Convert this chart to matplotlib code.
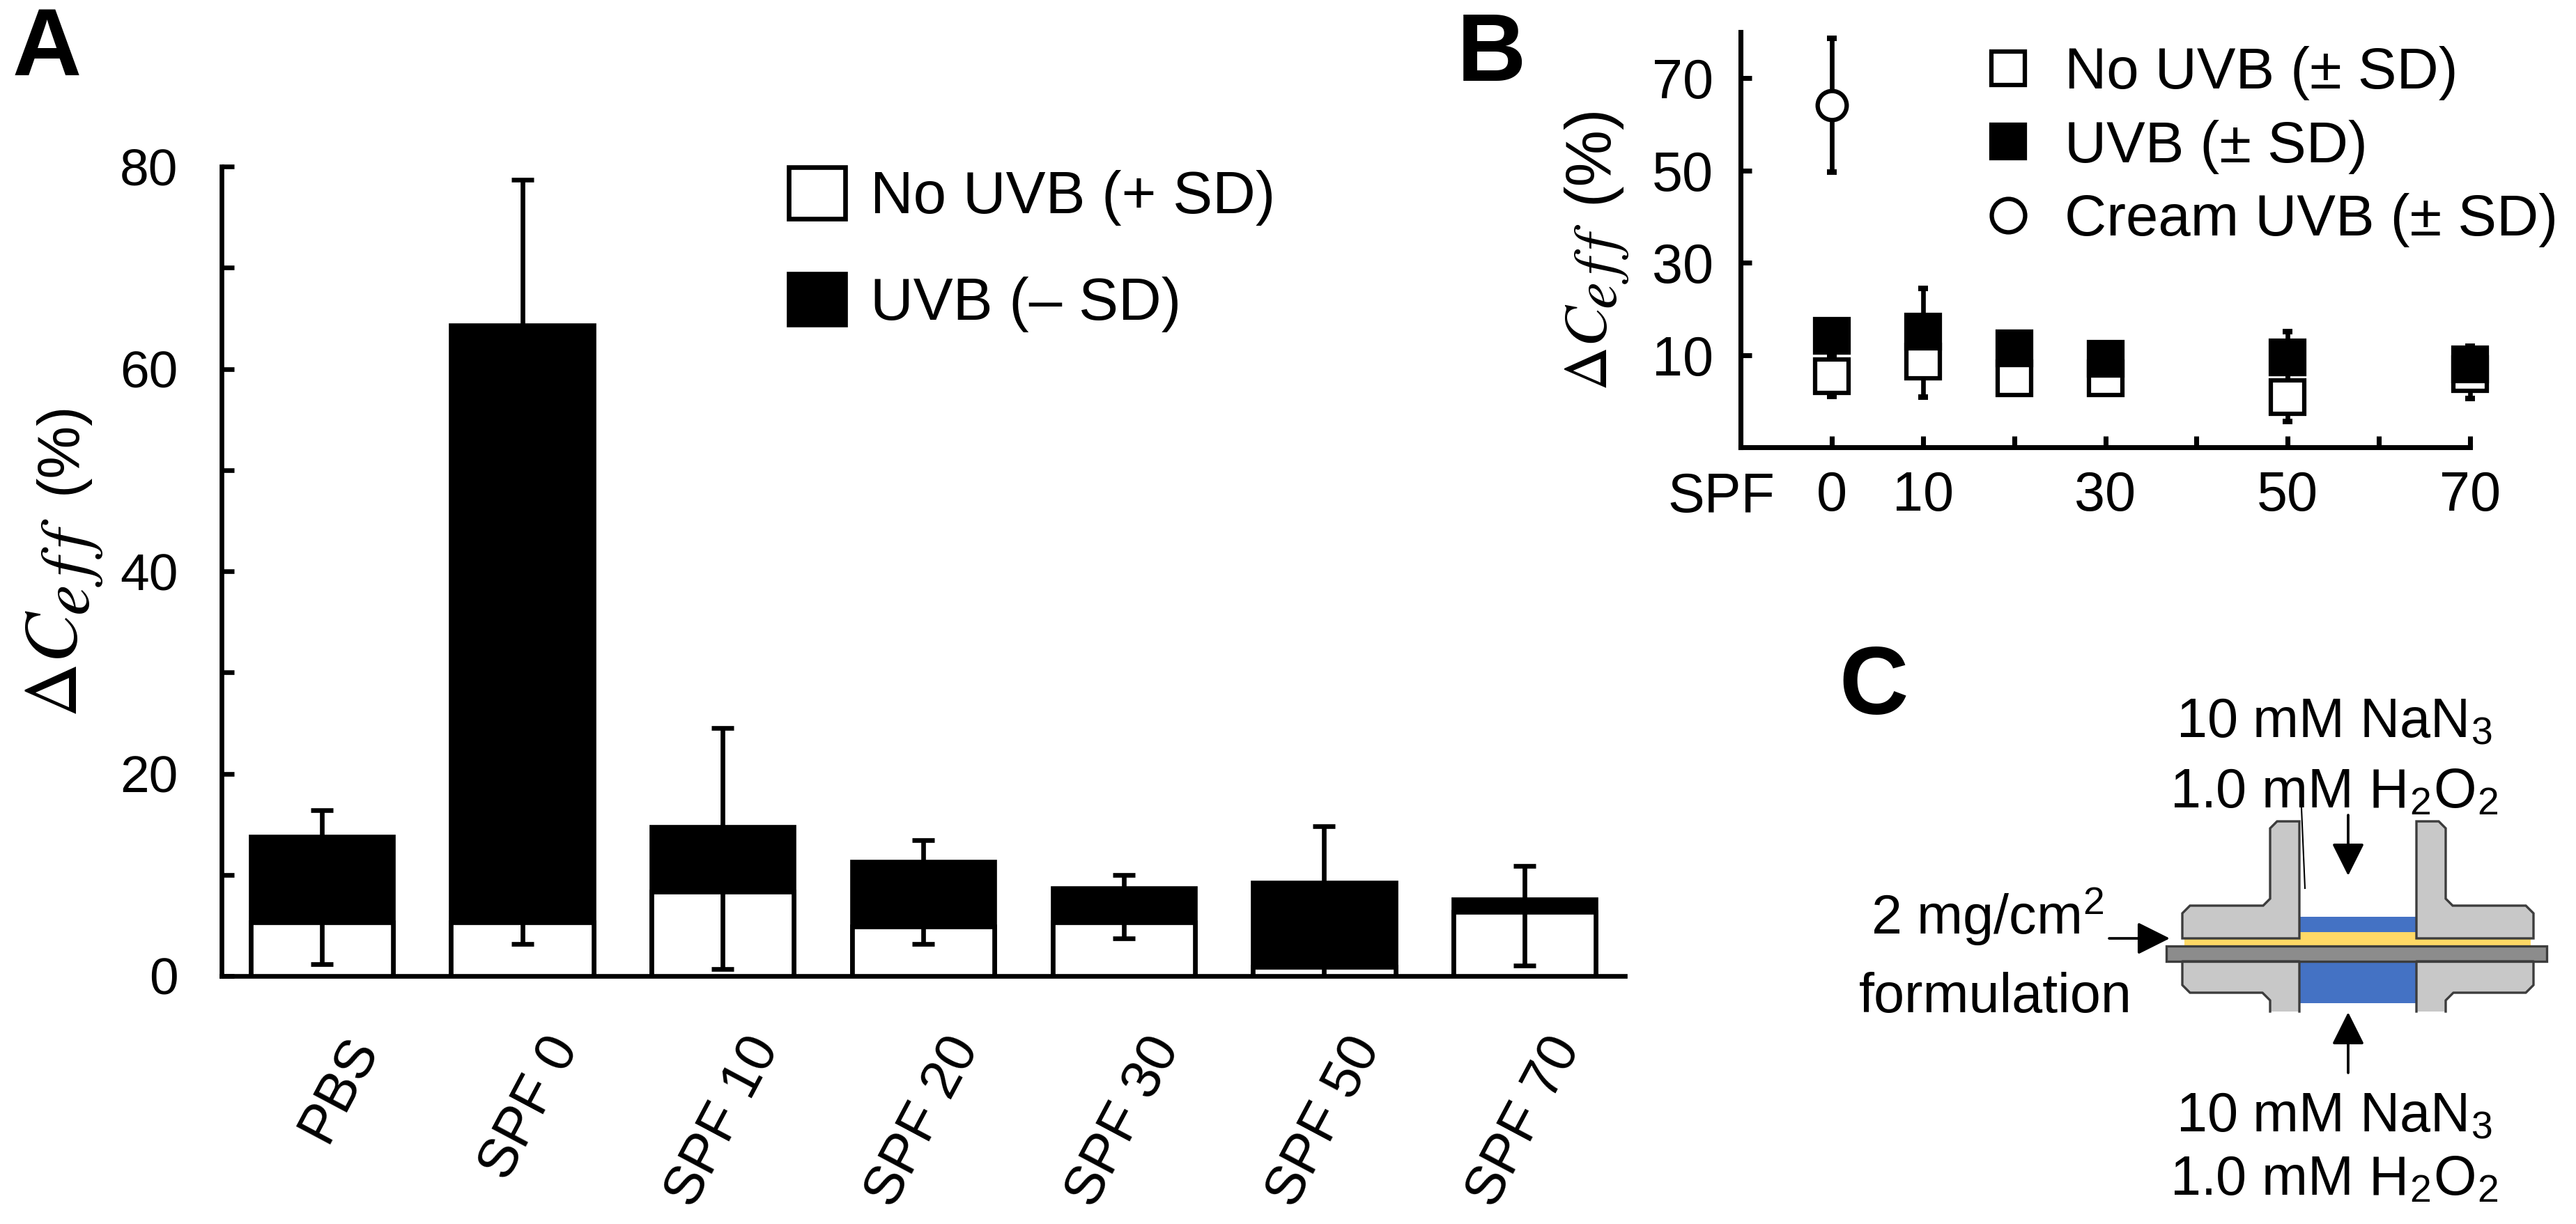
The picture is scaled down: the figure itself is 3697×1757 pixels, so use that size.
import matplotlib
matplotlib.use('Agg')
import matplotlib.pyplot as plt
from matplotlib.patches import Patch, Polygon, Rectangle
from matplotlib.lines import Line2D
from matplotlib.transforms import ScaledTranslation

plt.rcParams['font.family'] = ['Liberation Sans', 'DejaVu Sans']
plt.rcParams['mathtext.fontset'] = 'stix'

# ---- panel A data (bars) ----
cats_a = ['PBS', 'SPF 0', 'SPF 10', 'SPF 20', 'SPF 30', 'SPF 50', 'SPF 70']
no_uvb_a = [5.3, 5.3, 8.3, 4.9, 5.3, 0.9, 6.3]
uvb_a = [13.8, 64.3, 14.7, 11.3, 8.7, 9.2, 7.6]
err_lo_a = [1.2, 3.2, 0.7, 3.2, 3.7, -4.4, 1.0]
err_hi_a = [16.4, 78.7, 24.5, 13.4, 10.0, 14.8, 10.9]

# ---- panel B data (points) ----
spf_b = [0, 10, 20, 30, 50, 70]
no_uvb_b = [5.4, 8.5, 4.9, 4.9, 0.9, 5.8]
no_uvb_sd_b = [4.4, 7.7, 2.0, 1.5, 5.3, 5.3]
uvb_b = [14.2, 15.0, 11.5, 9.2, 9.5, 7.9]
uvb_sd_b = [3.0, 9.4, 2.5, 2.0, 5.6, 4.0]
cream_spf = [0]
cream_b = [64.2]
cream_sd = [14.5]

W, H = 3697, 1757
DPI = 300
fig = plt.figure(figsize=(W / DPI, H / DPI), dpi=DPI)


def fx(px):
    return px / W


def fy(py):
    return 1 - py / H


# overlay in pixel coords for labels and the cell sketch
ov = fig.add_axes([0, 0, 1, 1])
ov.set_xlim(0, W)
ov.set_ylim(H, 0)
ov.axis('off')

# ---------------- A ----------------
axA = fig.add_axes([fx(318), fy(1401), fx(2332) - fx(318), fy(239) - fy(1401)])
axA.set_facecolor('none')
xa = list(range(len(cats_a)))
axA.bar(xa, uvb_a, width=0.71, color='black', edgecolor='black', linewidth=1.6, zorder=2)
axA.bar(xa, no_uvb_a, width=0.71, color='white', edgecolor='black', linewidth=1.6, zorder=3)
yerr_a = [[u - lo for u, lo in zip(uvb_a, err_lo_a)],
          [hi - u for u, hi in zip(uvb_a, err_hi_a)]]
axA.errorbar(xa, uvb_a, yerr=yerr_a, fmt='none', ecolor='black', elinewidth=1.6,
             capsize=3.8, capthick=1.6, zorder=4)
axA.set_xlim(-0.5, 6.5)
axA.set_ylim(0, 80)
axA.spines[['top', 'right']].set_visible(False)
axA.spines[['left', 'bottom']].set_linewidth(1.6)
axA.set_yticks(range(0, 81, 10), ['0', '', '20', '', '40', '', '60', '', '80'])
axA.tick_params(axis='y', direction='in', length=4.3, width=1.6, pad=15, labelsize=18)
axA.set_xticks(xa, cats_a, rotation=62, ha='right', va='top', rotation_mode='anchor')
axA.tick_params(axis='x', length=0, pad=18, labelsize=19)
for lab in axA.get_xticklabels():
    lab.set_transform(lab.get_transform() + ScaledTranslation(7 / 72, 0, fig.dpi_scale_trans))

handles_a = [Patch(facecolor='white', edgecolor='black', linewidth=1.6, label='No UVB (+ SD)'),
             Patch(facecolor='black', edgecolor='black', linewidth=1.6, label='UVB (– SD)')]
axA.legend(handles=handles_a, loc='upper left', bbox_to_anchor=(fx(1132), fy(240)),
           bbox_transform=fig.transFigure, frameon=False, fontsize=20.5,
           handlelength=0.95, handleheight=0.95, handletextpad=0.42, labelspacing=0.8,
           borderpad=0, borderaxespad=0)

# ---------------- B ----------------
axB = fig.add_axes([fx(2498), fy(642), fx(3545) - fx(2498), fy(46) - fy(642)])
axB.set_facecolor('none')
eb = dict(fmt='none', ecolor='black', elinewidth=1.6, capsize=1.6, capthick=1.9, zorder=2,
          clip_on=False)
axB.errorbar(spf_b, no_uvb_b, yerr=no_uvb_sd_b, **eb)
axB.errorbar(spf_b, uvb_b, yerr=uvb_sd_b, **eb)
axB.errorbar(cream_spf, cream_b, yerr=cream_sd, **eb)
axB.plot(spf_b, no_uvb_b, 's', ms=11.5, mfc='white', mec='black', mew=1.5, zorder=3, clip_on=False)
axB.plot(spf_b, uvb_b, 's', ms=11.5, mfc='black', mec='black', mew=1.5, zorder=4, clip_on=False)
axB.plot(cream_spf, cream_b, 'o', ms=10, mfc='white', mec='black', mew=1.5, zorder=3, clip_on=False)
axB.set_xlim(-10, 70)
axB.set_ylim(-10, 80)
axB.spines[['top', 'right']].set_visible(False)
axB.spines[['left', 'bottom']].set_linewidth(1.7)
axB.set_xticks(range(0, 71, 10), ['0', '10', '', '30', '', '50', '', '70'])
axB.set_yticks([10, 30, 50, 70])
axB.tick_params(direction='in', length=3.8, width=1.7, labelsize=19)
axB.tick_params(axis='x', pad=8)
axB.tick_params(axis='y', pad=9.4)

handles_b = [Line2D([], [], ls='none', marker='s', ms=11.5, mfc='white', mec='black', mew=1.5,
                    label='No UVB (± SD)'),
             Line2D([], [], ls='none', marker='s', ms=11.5, mfc='black', mec='black', mew=1.5,
                    label='UVB (± SD)'),
             Line2D([], [], ls='none', marker='o', ms=11.5, mfc='white', mec='black', mew=1.5,
                    label='Cream UVB (± SD)')]
axB.legend(handles=handles_b, loc='upper left', bbox_to_anchor=(fx(2840), fy(66)),
           bbox_transform=fig.transFigure, frameon=False, fontsize=20, numpoints=1,
           handlelength=1.0, handletextpad=0.48, labelspacing=0.33,
           borderpad=0, borderaxespad=0)

# ---------------- labels ----------------
ov.text(67, 73, 'A', fontsize=33, fontweight='bold', ha='center', va='center')
ov.text(2140, 80, 'B', fontsize=33, fontweight='bold', ha='center', va='center')
ov.text(2689, 989, 'C', fontsize=33, fontweight='bold', ha='center', va='center')


def ylabel_parts(xb, y0, y1, y2, s_main, s_sub, s_pct, sub_drop):
    # rotated label built from pieces: big "ΔC", spaced italic "eff", then "(%)"
    kw = dict(rotation=90, rotation_mode='anchor', ha='left', va='baseline')
    ov.text(xb, y0, r'$\Delta C$', fontsize=s_main, **kw)
    ov.text(xb + sub_drop, y1, r'$e\,f\,f$', fontsize=s_sub, **kw)
    ov.text(xb, y2, '(%)', fontsize=s_pct, **kw)


ylabel_parts(110, 1030, 884, 709, 26, 24, 20.5, 18)
ylabel_parts(2306, 561, 444, 292, 21, 21, 22, 14)

ov.text(2470, 715, 'SPF', fontsize=19, ha='center', va='center')

# ---------------- C: diffusion cell sketch ----------------
cell_gray = '#c8c8c8'
edge_gray = '#3c3c3c'
ov.add_patch(Rectangle((3135, 1338), 497, 20, facecolor='#ffd966', edgecolor='none'))
ov.add_patch(Rectangle((3300, 1316), 168, 22, facecolor='#4472c4', edgecolor='none'))

upper_left = [(3268, 1179), (3300, 1179), (3300, 1347), (3132, 1347), (3132, 1311),
              (3143, 1300), (3248, 1300), (3258, 1290), (3258, 1189)]
lower_left = [(3258, 1452), (3258, 1436), (3247, 1425), (3143, 1425), (3132, 1414),
              (3132, 1380), (3300, 1380), (3300, 1452)]
for mirror in (False, True):
    up = [((6768 - x) if mirror else x, y) for x, y in upper_left]
    lo = [((6768 - x) if mirror else x, y) for x, y in lower_left]
    ov.add_patch(Polygon(up, closed=True, facecolor=cell_gray, edgecolor=edge_gray, lw=0.8))
    ov.add_patch(Polygon(lo, closed=True, facecolor=cell_gray, edgecolor='none'))
    ov.plot([p[0] for p in lo], [p[1] for p in lo], color=edge_gray, lw=0.8)

ov.add_patch(Rectangle((3300, 1380), 168, 60, facecolor='#4472c4', edgecolor='none'))
ov.add_patch(Rectangle((3109, 1358), 546, 22, facecolor='#8c8c8c', edgecolor=edge_gray, lw=0.8))
ov.plot([3303, 3308], [1160, 1275], color='black', lw=0.5)

arrow = dict(arrowstyle='-|>,head_length=0.6,head_width=0.3', color='black', lw=0.9,
             shrinkA=0, shrinkB=0, mutation_scale=16)
ov.annotate('', xy=(3370, 1257), xytext=(3370, 1170), arrowprops=arrow)
ov.annotate('', xy=(3370, 1453), xytext=(3370, 1540), arrowprops=arrow)
ov.annotate('', xy=(3114, 1347), xytext=(3027, 1347), arrowprops=arrow)

ov.text(3350, 1058, r'10 mM NaN$_\mathregular{3}$', fontsize=19, ha='center', va='baseline')
ov.text(3350, 1160, r'1.0 mM H$_\mathregular{2}$O$_\mathregular{2}$', fontsize=19, ha='center', va='baseline')
ov.text(3350, 1624, r'10 mM NaN$_\mathregular{3}$', fontsize=19, ha='center', va='baseline')
ov.text(3350, 1715, r'1.0 mM H$_\mathregular{2}$O$_\mathregular{2}$', fontsize=19, ha='center', va='baseline')
ov.text(2852, 1341, r'2 mg/cm$^\mathregular{2}$', fontsize=19, ha='center', va='baseline')
ov.text(2864, 1453, 'formulation', fontsize=19, ha='center', va='baseline')

fig.savefig('out.png', dpi=DPI)
